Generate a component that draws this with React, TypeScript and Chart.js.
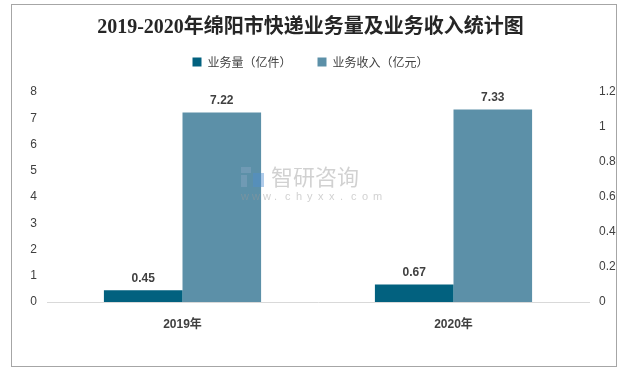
import React, { useEffect, useRef } from "react";
import { Chart, registerables } from "chart.js";

Chart.register(...registerables);

const TITLE = "2019-2020年绵阳市快递业务量及业务收入统计图";
const categories = ["2019年", "2020年"];
const volumeLabel = "业务量（亿件）";
const volumeValues = [0.45, 0.67];
const revenueLabel = "业务收入（亿元）";
const revenueValues = [7.22, 7.33];
const leftAxisMin = 0;
const leftAxisMax = 8;
const leftAxisStep = 1;
const rightAxisMin = 0;
const rightAxisMax = 1.2;
const rightAxisStep = 0.2;

const DARK = "#02617F";
const LIGHT = "#5C90A8";
const TEXT = "#404040";
const SANS = "'Liberation Sans', 'Noto Sans CJK SC', sans-serif";
const CJK = "'Noto Sans CJK SC', 'Liberation Sans', sans-serif";

const borderPlugin = {
  id: "outerBorder",
  beforeDraw(chart: any) {
    const ctx = chart.ctx;
    ctx.save();
    ctx.fillStyle = "#ffffff";
    ctx.fillRect(0, 0, chart.width, chart.height);
    ctx.strokeStyle = "#a6a6a6";
    ctx.lineWidth = 1;
    ctx.strokeRect(11.5, 4.5, 605, 362);
    ctx.restore();
  },
};

const legendSpacing = {
  id: "legendSpacing",
  beforeInit(chart: any) {
    if (!chart.legend) return;
    const orig = chart.legend.fit;
    chart.legend.fit = function fit() {
      orig.call(this);
      this.height += 14;
    };
  },
};

const watermarkAndLabels = {
  id: "watermarkAndLabels",
  afterDatasetsDraw(chart: any) {
    const ctx = chart.ctx;
    ctx.save();
    // watermark
    ctx.globalAlpha = 0.45;
    ctx.fillStyle = "#8aa7c4";
    ctx.fillRect(241, 167, 10, 6);
    ctx.fillRect(241, 175, 6, 12);
    ctx.fillStyle = "#4f8fd0";
    ctx.fillRect(253, 173, 11, 14);
    ctx.fillStyle = "#9a9a9a";
    ctx.font = "22px 'Noto Sans CJK SC', sans-serif";
    ctx.textBaseline = "middle";
    ctx.textAlign = "left";
    ctx.fillText("智研咨询", 271, 177);
    ctx.font = "11px 'Liberation Sans', sans-serif";
    const site = "www.chyxx.com";
    let x = 241;
    for (const ch of site) {
      ctx.fillText(ch, x, 197);
      x += 11;
    }
    ctx.restore();

    // data labels
    ctx.save();
    ctx.font = "bold 12px " + SANS;
    ctx.fillStyle = TEXT;
    ctx.textAlign = "center";
    ctx.textBaseline = "middle";
    chart.data.datasets.forEach((ds: any, i: number) => {
      const meta = chart.getDatasetMeta(i);
      if (!meta || meta.hidden) return;
      meta.data.forEach((el: any, j: number) => {
        const v = ds.data[j];
        ctx.fillText(v.toFixed(2), el.x, el.y - 12);
      });
    });
    ctx.restore();
  },
};

const fmt = (v: any) => String(Number(Number(v).toFixed(2)));

export default function App() {
  const ref = useRef<HTMLCanvasElement | null>(null);

  useEffect(() => {
    if (!ref.current) return;
    const chart = new Chart(ref.current, {
      type: "bar",
      data: {
        labels: categories,
        datasets: [
          {
            label: volumeLabel,
            data: volumeValues,
            backgroundColor: DARK,
            yAxisID: "y",
          },
          {
            label: revenueLabel,
            data: revenueValues,
            backgroundColor: LIGHT,
            yAxisID: "y",
          },
        ],
      },
      options: {
        responsive: false,
        animation: false,
        devicePixelRatio: 1,
        layout: { padding: 0 },
        datasets: {
          bar: { categoryPercentage: 0.58, barPercentage: 1.0 },
        },
        plugins: {
          tooltip: { enabled: false },
          title: {
            display: true,
            text: TITLE,
            color: "#262626",
            font: { family: "'Liberation Serif', 'Noto Sans CJK SC', serif", size: 20, weight: "bold", lineHeight: 1.2 },
            padding: { top: 16, bottom: -10 },
          },
          legend: {
            display: true,
            position: "top",
            labels: {
              boxWidth: 9,
              boxHeight: 9,
              padding: 26,
              color: TEXT,
              font: { family: CJK, size: 12 },
            },
          },
        },
        scales: {
          x: {
            grid: { display: false, drawTicks: false },
            border: { display: true, color: "#d9d9d9", width: 1 },
            ticks: {
              color: TEXT,
              padding: 15,
              font: { family: SANS, size: 12, weight: "bold" },
            },
            afterFit(scale: any) {
              scale.height = 68;
            },
          },
          y: {
            position: "left",
            min: leftAxisMin,
            max: leftAxisMax,
            ticks: {
              stepSize: leftAxisStep,
              color: TEXT,
              padding: 10,
              font: { family: SANS, size: 12 },
              callback: fmt,
            },
            grid: { display: false, drawTicks: false },
            border: { display: false },
            afterFit(scale: any) {
              scale.width = 47;
            },
          },
          y1: {
            position: "right",
            min: rightAxisMin,
            max: rightAxisMax,
            ticks: {
              stepSize: rightAxisStep,
              color: TEXT,
              padding: 10,
              font: { family: SANS, size: 12 },
              callback: fmt,
            },
            grid: { display: false, drawTicks: false },
            border: { display: false },
            afterFit(scale: any) {
              scale.width = 32;
            },
          },
        },
      } as any,
      plugins: [borderPlugin, legendSpacing, watermarkAndLabels],
    });
    return () => chart.destroy();
  }, []);

  return (
    <div style={{ position: "fixed", left: 0, top: 0, width: 621, height: 370, background: "#fff" }}>
      <canvas ref={ref} width={621} height={370} style={{ display: "block" }} />
    </div>
  );
}
